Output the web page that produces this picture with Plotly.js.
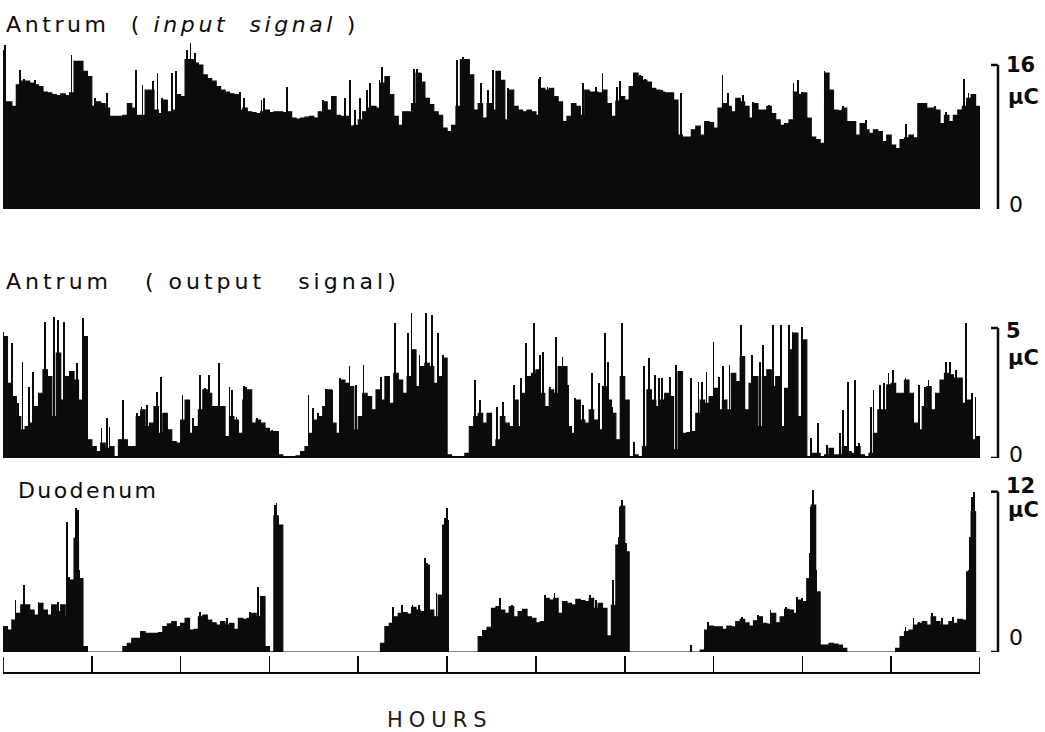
<!DOCTYPE html>
<html><head><meta charset="utf-8">
<script src="https://cdn.plot.ly/plotly-3.0.1.min.js"></script>
<style>html,body{margin:0;padding:0;background:#fff}#chart{width:1045px;height:732px}</style>
</head><body><div id="chart"></div>
<script>
// sampling step of the recorder trace (hours)
const STEP_HOURS = 0.05;
const hourTicks = [0,1,2,3,4,5,6,7,8,9,10,11];

// ---- Antrum (input signal), µC ----
const inputBody = [
11.9,11.9,11.4,13.8,14.2,14.2,14.0,13.8,13.6,13.0,
12.9,12.7,12.6,12.8,12.6,12.9,16.4,16.4,15.3,14.7,
11.4,11.9,11.7,11.2,10.3,10.3,10.3,10.4,11.7,11.2,
10.4,10.4,13.2,13.2,11.0,10.6,12.1,10.8,11.0,12.7,
12.5,16.6,16.6,16.2,16.0,14.9,14.5,14.2,13.6,13.2,
13.0,12.8,12.7,11.0,11.2,10.8,10.7,10.6,10.8,11.0,
10.7,10.8,10.8,10.7,10.8,10.1,10.0,10.1,10.2,10.3,
10.1,10.8,11.9,11.0,12.5,10.4,10.3,10.3,9.2,9.3,
9.9,10.8,11.2,11.4,11.2,14.0,14.7,12.7,10.3,9.3,
10.8,10.8,11.7,15.1,14.1,12.3,11.6,10.8,10.4,9.0,
8.6,9.3,11.4,16.6,16.6,14.9,11.0,11.7,10.1,11.7,
11.0,15.3,14.3,9.9,13.2,11.4,11.0,10.8,11.0,10.8,
10.4,13.4,13.2,13.4,12.5,11.9,9.7,10.3,11.7,11.4,
10.4,13.2,13.0,13.0,12.9,13.2,11.7,10.3,12.0,12.5,
12.1,13.6,15.1,14.7,14.3,14.1,13.4,13.2,13.0,12.9,
12.9,12.1,8.2,8.0,8.0,8.8,9.2,8.2,9.7,9.6,
9.0,11.2,11.7,11.4,10.8,12.3,11.9,11.4,10.1,11.7,
11.0,11.0,11.4,10.6,9.9,9.3,9.5,9.9,13.0,12.7,
12.9,10.1,8.0,7.7,7.3,15.1,13.2,11.0,10.9,11.2,
9.7,9.7,8.2,9.5,8.8,8.4,8.8,8.6,7.5,8.2,
7.1,6.7,7.7,7.9,8.2,7.9,11.7,11.7,11.2,11.2,
11.0,9.5,10.4,9.7,10.4,11.0,11.4,12.3,12.7,11.4,9.0];
const inputSpikeX = [0.00,0.02,0.19,0.24,0.36,0.77,0.87,1.04,1.17,1.50,1.57,1.69,1.74,1.79,1.90,1.95,2.07,2.11,2.16,2.67,2.71,2.91,2.94,3.20,3.60,3.70,3.85,3.91,3.96,4.02,4.10,4.13,4.24,4.27,4.63,4.66,4.71,5.11,5.18,5.20,5.38,5.46,5.52,5.69,6.03,6.05,6.13,6.53,6.68,6.75,6.91,6.95,7.12,7.17,7.23,7.42,7.63,8.10,8.16,8.33,8.44,8.62,8.90,8.95,9.00,9.25,9.46,9.72,10.17,10.49,10.62,10.82,10.87,10.94];
const inputSpikeY = [17.7,18.2,15.4,14.5,14.3,17.1,16.2,12.3,12.9,15.4,13.8,14.2,15.1,12.3,15.1,15.3,17.7,18.4,17.3,13.0,12.3,12.1,12.3,13.6,12.1,12.5,12.3,14.3,11.0,12.3,13.2,14.0,14.3,15.8,15.6,15.6,15.1,16.6,16.9,16.7,14.0,13.2,15.4,13.4,14.5,14.7,13.6,14.0,13.6,15.1,13.6,14.2,15.1,14.9,14.5,13.2,12.9,14.9,12.9,12.7,11.9,11.6,14.0,14.3,13.0,15.3,11.4,9.9,9.5,11.4,10.8,14.5,12.9,11.6];

// ---- Antrum (output signal), µC ----
const outputBody = [
4.67,2.87,2.36,1.59,1.08,1.21,1.34,1.98,2.49,3.39,
3.13,1.59,4.03,2.23,3.13,3.32,3.0,2.23,4.67,0.7,
0.44,0.25,0.57,0.37,0.44,0.05,0.7,0.7,0.44,0.44,
1.59,1.85,1.21,1.34,1.98,0.95,1.72,1.08,0.63,0.57,
1.46,2.23,0.95,1.21,1.85,2.62,2.49,1.98,1.98,1.98,
0.82,1.59,1.46,0.95,2.23,2.62,1.34,1.46,1.34,1.14,
1.02,1.02,0.12,0.05,0.05,0.05,0.08,0.25,0.44,0.95,
1.46,1.59,1.98,2.62,1.34,0.95,3.0,2.87,2.75,1.08,
1.59,2.49,2.36,1.85,2.62,2.23,3.13,2.1,3.26,3.0,
2.49,3.13,4.16,2.75,3.52,3.64,3.52,2.87,3.13,3.84,
0.12,0.05,0.05,0.05,0.18,1.21,1.59,1.72,1.34,1.72,
0.44,0.7,1.59,1.34,1.21,2.23,1.21,2.49,3.13,3.26,
3.39,2.49,1.98,2.62,2.49,3.52,3.52,1.21,0.95,2.23,
1.46,1.34,1.85,1.46,1.08,2.75,2.23,1.72,0.7,3.13,
2.23,0.05,0.12,0.05,0.44,2.62,2.23,1.98,2.23,2.49,
2.36,0.31,3.32,0.95,0.98,1.02,1.72,2.23,2.1,2.36,
2.68,1.85,2.23,1.85,3.26,2.94,3.9,1.85,2.87,3.13,
1.21,3.13,3.39,2.75,3.13,1.21,2.68,4.16,4.8,1.59,
4.54,0.05,0.18,0.18,0.05,0.12,0.37,0.12,0.12,0.44,
0.25,0.18,0.44,0.12,0.05,0.18,0.95,1.85,1.85,2.81,
2.87,2.49,2.49,3.0,2.49,1.34,1.08,1.98,2.75,1.85,
2.49,3.0,3.26,3.2,3.07,3.07,2.1,2.23,0.7,0.82,0.05];
const outputSpikeX = [0.00,0.04,0.10,0.17,0.22,0.29,0.34,0.47,0.57,0.62,0.69,0.83,0.90,1.11,1.17,1.20,1.35,1.51,1.56,1.62,1.73,1.78,1.83,2.02,2.07,2.14,2.22,2.27,2.32,2.43,2.55,2.58,2.63,2.71,2.74,2.86,3.03,3.44,3.49,3.55,3.59,3.64,3.66,
3.70,3.79,3.90,3.97,4.06,4.26,4.41,4.56,4.60,4.69,4.76,4.83,4.90,4.95,5.31,5.37,5.56,5.63,5.75,5.83,5.89,5.98,6.05,6.08,6.16,6.23,6.30,6.36,6.44,6.53,6.63,6.71,6.78,6.81,6.86,6.97,7.10,7.22,7.27,7.34,7.39,
7.42,7.51,7.58,7.64,7.75,7.83,7.87,7.92,8.00,8.06,8.11,8.18,8.22,8.31,8.43,8.52,8.56,8.67,8.76,8.85,8.89,9.00,9.02,9.10,9.18,9.28,9.42,9.46,9.51,9.59,9.64,9.77,9.80,9.87,9.92,9.97,10.02,10.16,10.31,10.38,10.42,10.62,10.66,10.73,10.84,10.91,10.95];
const outputSpikeY = [4.86,4.54,4.41,2.1,3.71,2.75,3.32,5.25,5.44,5.31,5.25,3.64,5.37,1.14,1.53,1.21,2.23,1.72,1.98,2.04,2.55,3.13,1.72,2.43,1.98,1.53,3.2,2.68,3.2,3.64,2.75,2.62,1.59,2.77,2.75,1.53,1.08,2.43,1.91,1.72,1.53,2.64,2.62,
2.62,3.07,3.52,2.81,3.58,3.13,5.18,4.8,5.57,3.96,5.57,5.5,4.8,3.96,3.0,2.23,1.98,2.17,2.81,3.07,4.41,5.18,3.96,4.09,2.75,4.67,3.9,2.81,2.3,2.04,3.26,2.87,4.8,3.71,1.98,5.18,0.63,3.52,3.84,3.2,3.07,
3.07,3.13,3.58,1.98,3.07,2.94,2.94,3.32,4.48,3.13,3.52,3.58,2.87,5.12,3.96,3.71,4.35,5.12,5.12,5.12,4.86,5.05,2.87,0.76,1.34,0.5,0.95,1.85,2.94,3.0,0.57,1.98,2.62,2.81,2.87,3.26,3.39,3.07,2.81,2.75,3.0,3.71,3.71,3.39,5.18,2.49,2.36];

// ---- Duodenum, µC ----
const duodenumBody = [
1.9,1.64,2.39,2.89,3.52,3.52,3.14,2.77,3.64,3.14,
2.77,3.52,3.02,3.52,2.64,5.39,8.5,5.5,0.4,0,
0,0,0,0,0,0,0,0.4,0.65,1.02,
1.02,1.52,1.4,1.4,1.4,1.45,1.9,2.1,2.27,1.9,
2.14,2.52,1.64,1.69,2.64,2.77,2.39,2.19,2.02,2.27,
2.02,2.14,1.69,2.52,2.44,2.52,2.89,2.64,4.14,0.4,
0.02,10.2,9.5,0,0,0,0,0,0,0,
0,0,0,0,0,0,0,0,0,0,
0,0,0,0,0,0.65,1.9,2.14,2.64,2.89,
2.94,2.84,3.34,3.14,3.02,6.51,3.14,2.64,4.26,9.5,
0,0,0,0,0,0,0,1.15,1.6,1.84,
3.27,3.39,3.14,2.89,3.39,2.64,3.02,3.19,2.64,2.52,
2.19,2.27,4.01,3.89,4.01,2.89,3.77,3.64,3.52,3.94,
3.84,3.77,4.01,3.27,3.64,3.27,1.2,3.5,8.0,10.9,
7.5,0,0,0,0,0,0,0,0,0,
0,0,0,0,0,0,0,0.15,1.64,1.94,
1.89,1.89,1.69,1.94,1.89,2.27,2.44,2.19,1.94,2.34,
2.64,2.14,2.09,2.89,2.19,2.64,3.19,3.14,2.89,3.89,
3.77,5.5,11.0,4.5,0.52,0.52,0.65,0.6,0.52,0.27,
0,0,0,0,0,0,0,0,0,0,
0,0.27,1.15,1.52,1.64,2.02,2.14,2.27,2.02,2.64,
2.27,2.02,2.02,2.27,2.14,2.44,2.39,6.0,10.5,0,0];
const duodenumSpikeX = [0.14,0.24,0.40,0.55,0.62,0.72,0.74,0.75,0.82,0.84,0.86,2.22,2.52,2.78,2.87,3.06,3.08,3.10,3.13,
4.39,4.49,4.61,4.68,4.75,4.77,4.88,4.98,5.00,5.01,5.60,5.73,6.10,6.21,6.61,6.68,6.87,6.93,6.95,6.97,6.99,7.01,
7.75,7.94,8.32,8.50,8.64,8.82,8.94,9.00,9.07,9.09,9.10,9.12,9.14,9.16,10.16,10.25,10.31,10.46,10.57,10.70,10.85,10.87,10.89,10.91,10.93];
const duodenumSpikeY = [3.89,5.01,3.77,3.52,3.77,9.75,5.64,5.39,10.75,10.63,6.14,3.02,2.52,3.02,4.89,11.0,11.13,10.13,3.64,
3.39,3.52,3.52,3.52,7.01,6.63,4.39,10.0,10.75,9.88,4.01,3.52,4.26,4.39,4.26,3.89,5.39,8.63,10.88,11.37,10.13,8.13,
0.52,2.27,2.64,2.77,3.14,3.39,4.14,4.01,5.39,7.38,10.88,12.12,9.63,6.14,1.89,2.52,2.27,2.89,2.52,2.64,3.14,6.14,8.63,11.62,11.99];

// text
const panelTitles = ["Antrum\u00a0\u00a0(\u00a0<i>input\u00a0\u00a0signal</i>\u00a0)", "Antrum\u00a0\u00a0\u00a0(\u00a0output\u00a0\u00a0\u00a0signal)", "Duodenum"];
const scaleMax = [16, 5, 12];
const scaleMaxText = ["16", "5", "12"];
const unitText = "\u03bcC";
const zeroText = "0";
const axisTitle = "HOURS";

const INK = '#0b0b0b';
const timeOf = arr => arr.map((_, i) => +(i * STEP_HOURS).toFixed(2));

function body(vals, ya) {
  return {type:'scatter', mode:'lines', x: timeOf(vals), y: vals, xaxis:'x', yaxis: ya,
    line:{shape:'hv', color:INK, width:1.2}, fill:'tozeroy', fillcolor:INK, hoverinfo:'skip', showlegend:false};
}
function spikes(xs, ys, ya) {
  return {type:'bar', x: xs, y: ys, xaxis:'x', yaxis: ya, width: xs.map(()=>0.02),
    marker:{color:INK, line:{width:0}}, hoverinfo:'skip', showlegend:false};
}

const data = [
  body(inputBody, 'y'), spikes(inputSpikeX, inputSpikeY, 'y'),
  body(outputBody, 'y2'), spikes(outputSpikeX, outputSpikeY, 'y2'),
  body(duodenumBody, 'y3'), spikes(duodenumSpikeX, duodenumSpikeY, 'y3')
];

const W = 1045, H = 732, L = 3, R = 65;
const px2x = p => (p - L) / (W - L - R);
const py2y = p => 1 - p / H;

const yAx = (dom, rng) => ({domain: dom, range: rng, visible:false, fixedrange:true, showgrid:false, zeroline:false});

const refs = ['y','y2','y3'];
const unitPos = [12.4, 3.85, 10.6];
const zeroPos = [0.55, 0.15, 1.05];
const maxPos = [16, 4.9, 12.4];

const shapes = [];
const annotations = [];
const brX = px2x(998), hookX = px2x(991);
refs.forEach((r, k) => {
  const lo = k === 0 ? -0.2 : 0;
  const top = scaleMax[k];
  const ln = {color: INK, width: 2.5};
  shapes.push({type:'line', xref:'paper', yref:r, x0:brX, x1:brX, y0:lo, y1:top, line:ln});
  shapes.push({type:'line', xref:'paper', yref:r, x0:hookX, x1:brX, y0:top, y1:top, line:ln});
  shapes.push({type:'line', xref:'paper', yref:r, x0:hookX, x1:brX, y0:lo, y1:lo, line:ln});
  annotations.push({xref:'paper', yref:r, x:px2x(1004), y:maxPos[k], xanchor:'left', yanchor:'middle', showarrow:false,
    text:'<b>'+scaleMaxText[k]+'</b>', font:{family:'DejaVu Sans', size:21, color:INK}});
  annotations.push({xref:'paper', yref:r, x:px2x(1006), y:unitPos[k], xanchor:'left', yanchor:'middle', showarrow:false,
    text:'<b>'+unitText+'</b>', font:{family:'DejaVu Sans', size:21, color:INK}});
  annotations.push({xref:'paper', yref:r, x:px2x(1007), y:zeroPos[k], xanchor:'left', yanchor:'middle', showarrow:false,
    text:zeroText, font:{family:'DejaVu Sans', size:22, color:INK}});
});
// end ticks of the hour scale
[0, 11].forEach(t => shapes.push({type:'line', xref:'x', yref:'paper', x0:t, x1:t, y0:py2y(673), y1:py2y(657),
  line:{color:INK, width:1.8}}));

annotations.push({xref:'paper', yref:'paper', x:px2x(4), y:py2y(24), xanchor:'left', yanchor:'middle', showarrow:false,
  text:panelTitles[0], font:{family:'DejaVu Sans', size:22, color:INK}});
annotations.push({xref:'paper', yref:'paper', x:px2x(4), y:py2y(281), xanchor:'left', yanchor:'middle', showarrow:false,
  text:panelTitles[1], font:{family:'DejaVu Sans', size:22, color:INK}});
annotations.push({xref:'paper', yref:'paper', x:px2x(16), y:py2y(490), xanchor:'left', yanchor:'middle', showarrow:false,
  text:panelTitles[2], font:{family:'DejaVu Sans', size:22, color:INK}});
annotations.push({xref:'paper', yref:'paper', x:px2x(385), y:py2y(720), xanchor:'left', yanchor:'middle', showarrow:false,
  text:axisTitle, font:{family:'DejaVu Sans', size:21, color:'#1a1a1a'}});

const layout = {
  width: W, height: H,
  margin: {l:L, r:R, t:0, b:0, pad:0},
  paper_bgcolor:'#fff', plot_bgcolor:'rgba(0,0,0,0)',
  showlegend:false, barmode:'overlay', bargap:0,
  xaxis: {range:[0, 11], anchor:'free', position: py2y(673), side:'bottom',
    showline:true, linecolor:INK, linewidth:2, ticks:'inside', ticklen:16, tickwidth:1.6, tickcolor:INK,
    tickvals: hourTicks, showticklabels:false, showgrid:false, zeroline:false, fixedrange:true},
  yaxis: yAx([py2y(209), py2y(209 - 18.8*9)], [0, 18.8]),
  yaxis2: yAx([py2y(458), py2y(458 - 5.8*26)], [0, 5.8]),
  yaxis3: yAx([py2y(652), py2y(652 - 12.8*13.36)], [0, 12.8]),
  shapes: shapes,
  annotations: annotations
};

// letter spacing of the widely-spaced lettering (px per glyph); text kept left-aligned at its start
function spacingFor(s) {
  if (s.startsWith("Antrum\u00a0\u00a0\u00a0(")) return 4.0;
  if (s.startsWith("Antrum\u00a0\u00a0(")) return 3.6;
  if (s === "Duodenum") return 2.4;
  if (s === "HOURS") return 6;
  return null;
}
Plotly.newPlot('chart', data, layout, {staticPlot:true, displayModeBar:false}).then(gd => {
  gd.querySelectorAll('text.annotation-text').forEach(t => {
    const ls = spacingFor(t.textContent);
    if (ls === null) return;
    const bb = t.getBBox();
    t.setAttribute('text-anchor', 'start');
    t.style.textAnchor = 'start';
    t.setAttribute('x', bb.x);
    t.style.letterSpacing = ls + 'px';
  });
});
</script></body></html>
